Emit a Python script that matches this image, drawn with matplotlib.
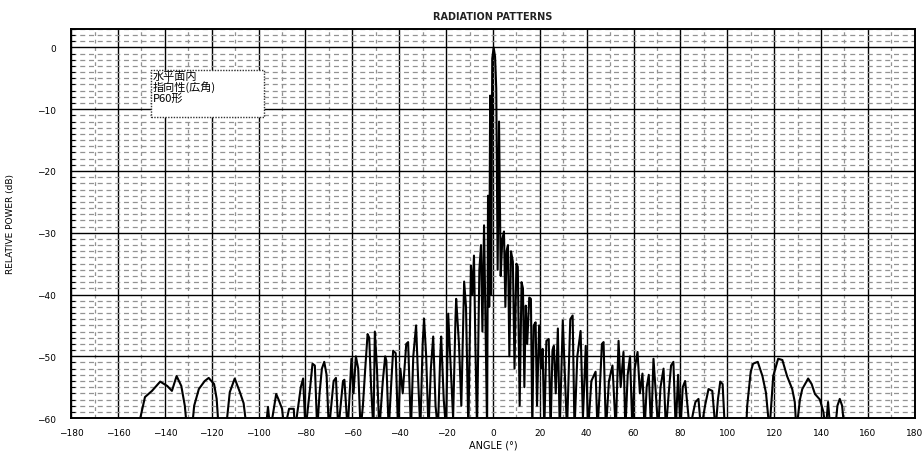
import matplotlib
matplotlib.use("Agg")
import matplotlib.pyplot as plt
from matplotlib.patches import Rectangle
from matplotlib.ticker import MultipleLocator

# measured pattern: angle (deg) and relative power (dB); values below -60 are off-scale
angle = [
    -180, -151, -150.5, -148.5, -145.5, -142, -139, -137, -135, -133, -131.5, -130.5,
    -128.5, -127.5, -125.5, -123, -121.3, -119, -117.9, -117,
    -114, -112.3, -110.2, -108, -106.4, -105,
    -97, -96, -95, -92.5, -91.5, -90, -89, -87, -85, -84.5,
    -82, -81, -80, -78, -77, -76, -75, -74, -73, -72, -71, -70,
    -69, -68, -67, -66, -65, -64, -63.4, -62, -61, -60.4, -59.5, -58.5, -57.5, -56.5,
    -55.5, -54.5, -53.5, -52.8, -52, -51, -50.4, -49.5, -48.5, -47, -46, -45.5, -44.5,
    -43.5, -42.6, -41.5, -40.5, -39.5, -38.5, -37, -36.2, -35, -34, -32.8, -32, -31,
    -30, -29.4, -28.5, -27.5, -26.5, -25.5, -24.5, -23.5, -22.5, -22.1, -21, -20,
    -19.1, -18, -17, -16, -15.7, -14.5, -13.5, -12.3, -11.5, -10.5, -9.4, -8.8, -8.1,
    -7.5, -6.8, -5.8, -5.1, -4.5, -3.8, -3.2, -2.5, -2.1, -1.6, -1.2, -0.8, -0.3,
    0.3, 0.9, 1.4, 2.0, 2.6, 3.3, 4.0, 4.7, 5.3, 5.8, 6.4, 7.0, 7.7, 8.5, 9.2, 10,
    10.6, 11.4, 12.2, 12.8, 13.4, 14, 14.6, 15.5, 16.2, 16.8, 17.4, 18.2, 18.8, 19.7,
    20.5, 21.2, 21.9, 22.8, 23.8, 24.6, 25.4, 26, 26.8, 27.7, 28.5, 29.8, 30.6, 31.6,
    33, 34, 34.8, 36, 37.4, 38.4, 39.6, 40.6, 42, 43.8, 44.6, 45.5, 46.5, 47.2, 48.2,
    49.5, 51, 52.4, 53.6, 54.5, 55.7, 56.5, 57.5, 58.5, 59.5, 60.5, 61.7, 62.7, 63.8,
    64.7, 65.6, 66.5, 67.5, 68.5, 69.5, 70.5, 71.5, 72.8, 73.8, 75, 76, 77, 78, 79,
    80, 81, 82, 83, 84, 85.5, 86.4, 87.7, 88.8, 90.5, 92, 93.6, 95, 96, 97, 98, 99,
    108, 108.5, 110, 111, 113, 115, 116.5, 118, 119.6, 121.7, 123.5, 125.5, 127.7,
    128.8, 129.5, 131, 132, 134.5, 136, 137.4, 139.5, 141, 142, 143, 144, 146, 147,
    148, 149, 150, 180,
]
power = [
    -70, -65, -60, -56.6, -55.6, -54.1, -54.8, -55.6, -53.2, -54.8, -58, -62,
    -62, -58, -55.3, -54, -53.5, -54.5, -56.9, -62,
    -62, -55.8, -53.6, -55.8, -57.6, -62,
    -62, -58.2, -62, -56.1, -57, -58.5, -62, -58.5, -58.5, -62,
    -55, -53.6, -62, -55, -51.2, -51.5, -62, -56, -52, -50.9, -53, -62,
    -58, -54, -53.5, -62, -58, -54, -53.8, -62, -55, -50.4, -56, -50, -52, -62,
    -58, -52, -46.4, -47, -55, -62, -46, -52, -62, -54, -50, -50.7, -62,
    -55, -49.1, -49.5, -62, -52, -56, -48, -47.7, -62, -50, -45, -53, -62,
    -48, -43.9, -50, -62, -52, -46.8, -58, -62, -50, -46.8, -57, -62,
    -43.1, -52, -60, -44, -40.7, -48, -58, -37.9, -42, -62, -35.3, -40, -33.7,
    -48, -62, -36, -32, -46, -28.8, -44, -62, -24, -42, -7.8, -40, -1.8,
    0, -1.5, -6.6, -36, -12, -37, -31, -29.8, -42, -33, -32, -50, -33, -34.7, -52, -35,
    -35.5, -58, -38, -39, -55, -41.8, -48, -40.5, -40.7, -62, -45, -44.5, -58, -45,
    -52, -48.8, -62, -47.5, -47.2, -62, -49, -48.3, -56, -45.5, -62, -44.2, -52, -62,
    -44, -43.4, -62, -50, -45.9, -60, -48.3, -62, -54, -52.5, -62, -56, -48, -47.7, -62,
    -54, -51.5, -62, -47.5, -55, -49.3, -62, -53, -50, -62, -52, -49.3, -56, -52.8,
    -62, -55, -53, -62, -50.4, -56, -62, -55, -52, -62, -56, -51.5, -50.9, -62, -53,
    -62, -55, -54, -58, -62, -59, -57.4, -56.9, -62, -58, -55.3, -55.6, -62, -57, -54.1, -54.5, -62,
    -62, -58, -52.5, -51.2, -50.9, -53.2, -55.9, -62, -53.2, -50.4, -50.6, -53.2, -55.3,
    -57.4, -62, -57, -55.3, -53.6, -54.5, -56.1, -57, -59, -62, -57.4, -62, -62, -58,
    -56.9, -58, -62, -70,
]

x_ticks = list(range(-180, 181, 20))
y_ticks = list(range(-60, 1, 10))
note_lines = ["水平面内", "指向性(広角)", "P60形"]

fig = plt.figure(figsize=(9.24, 4.6), dpi=100)
ax = fig.add_axes([0.077, 0.089, 0.913, 0.846])

ax.plot(angle, power, color="black", lw=1.5, zorder=3)

ax.set_xlim(-180, 180)
ax.set_ylim(-60, 3)
ax.set_xticks(x_ticks)
ax.set_yticks(y_ticks)
ax.xaxis.set_minor_locator(MultipleLocator(10))
ax.yaxis.set_minor_locator(MultipleLocator(1))

ax.grid(which="major", color="black", lw=1.0, ls="-", zorder=1)
ax.grid(which="minor", axis="y", color="#939393", lw=0.9, ls=(0, (4, 3)), zorder=0)
ax.grid(which="minor", axis="x", color="#939393", lw=0.9, ls=(0, (3, 3)), zorder=0)

ax.tick_params(which="major", labelsize=6.5, length=0)
ax.tick_params(axis="y", which="major", pad=11)
ax.tick_params(axis="x", which="major", pad=7)
ax.tick_params(which="minor", axis="y", direction="in", length=3, width=0.8, left=True)
ax.tick_params(which="minor", axis="x", length=0)
for sp in ax.spines.values():
    sp.set_linewidth(1.4)

ax.set_title("RADIATION PATTERNS", fontsize=7, fontweight="bold", color="#222222", pad=7)
ax.set_xlabel("ANGLE (°)", fontsize=7, labelpad=2)
ax.set_ylabel("RELATIVE POWER (dB)", fontsize=6.5, labelpad=16)

ax.add_patch(Rectangle((0.095, 0.774), 0.134, 0.121, transform=ax.transAxes,
                       fc="white", ec="#333333", lw=1.0, ls=(0, (1, 1)), zorder=5))
ax.text(0.097, 0.892, "\n".join(note_lines), transform=ax.transAxes,
        fontsize=8, va="top", ha="left", linespacing=0.95,
        family=["Noto Sans CJK JP", "DejaVu Sans"], zorder=6)

fig.savefig("out.png", dpi=100)
